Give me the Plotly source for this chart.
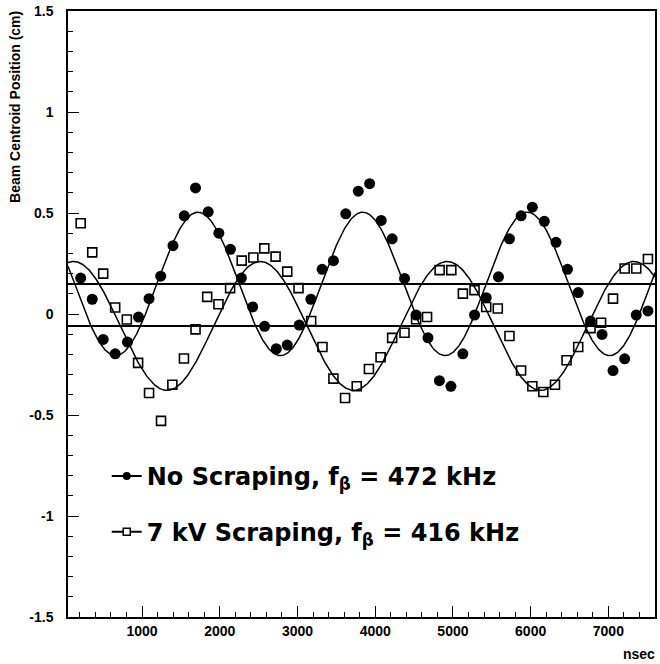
import numpy as np
import plotly.graph_objects as go

# ---- data ----
t_noscrape = [210, 359, 500, 654, 812, 954, 1090, 1240, 1398, 1543,
              1688, 1851, 1988, 2137, 2278, 2423, 2577, 2727, 2868, 3022,
              3172, 3317, 3462, 3621, 3782, 3928, 4077, 4218, 4377, 4526,
              4679, 4826, 4974, 5128, 5278, 5428, 5586, 5727, 5877, 6022,
              6176, 6326, 6474, 6612, 6770, 6919, 7060, 7210, 7359, 7509]
y_noscrape = [0.178, 0.073, -0.126, -0.197, -0.139, -0.015, 0.076, 0.187, 0.338, 0.486,
              0.624, 0.506, 0.400, 0.320, 0.178, 0.035, -0.061, -0.172, -0.154, -0.055,
              0.073, 0.221, 0.264, 0.496, 0.608, 0.645, 0.463, 0.372, 0.176, -0.005,
              -0.118, -0.330, -0.358, -0.197, -0.005, 0.081, 0.184, 0.372, 0.486, 0.529,
              0.459, 0.355, 0.221, 0.106, -0.035, -0.101, -0.280, -0.222, -0.005, 0.015]

t_scrape = [210, 359, 500, 654, 804, 949, 1090, 1244, 1390, 1539,
            1688, 1838, 1983, 2133, 2282, 2432, 2573, 2718, 2868, 3013,
            3176, 3321, 3462, 3612, 3762, 3919, 4069, 4218, 4377, 4526,
            4667, 4829, 4979, 5128, 5278, 5428, 5577, 5727, 5877, 6022,
            6163, 6313, 6462, 6612, 6770, 6906, 7060, 7210, 7359, 7509]
y_scrape = [0.449, 0.305, 0.200, 0.032, -0.027, -0.242, -0.391, -0.529, -0.350, -0.220,
            -0.076, 0.085, 0.048, 0.128, 0.264, 0.280, 0.325, 0.284, 0.210, 0.128,
            -0.035, -0.163, -0.320, -0.416, -0.358, -0.272, -0.214, -0.118, -0.093, -0.026,
            -0.015, 0.217, 0.217, 0.101, 0.118, 0.035, 0.027, -0.109, -0.280, -0.358,
            -0.386, -0.350, -0.229, -0.163, -0.070, -0.043, 0.076, 0.225, 0.225, 0.272]

# sine-fit parameters (frequency from legend, others)
fitA = dict(freq_khz=472, amp=0.355, offset=0.149, peak_ns=1720)
fitB = dict(freq_khz=416, amp=0.319, offset=-0.059, peak_ns=118)

x_range = [47, 7600]
y_range = [-1.5, 1.5]
x_ticks = [1000, 2000, 3000, 4000, 5000, 6000, 7000]
y_ticks = [-1.5, -1, -0.5, 0, 0.5, 1, 1.5]
y_ticklabels = ["-1.5", "-1", "-0.5", "0", "0.5", "1", "1.5"]

label_A = "No Scraping, f<sub>β</sub> = 472 kHz"
label_B = "7 kV Scraping, f<sub>β</sub> = 416 kHz"


def fit_curve(p, t):
    period = 1e6 / p["freq_khz"]
    return p["offset"] + p["amp"] * np.cos(2 * np.pi * (t - p["peak_ns"]) / period)


tt = np.linspace(x_range[0], x_range[1], 800)

fig = go.Figure()
fig.add_trace(go.Scatter(x=tt, y=fit_curve(fitA, tt), mode="lines",
                         line=dict(color="black", width=1.5), showlegend=False))
fig.add_trace(go.Scatter(x=tt, y=fit_curve(fitB, tt), mode="lines",
                         line=dict(color="black", width=1.5), showlegend=False))
fig.add_trace(go.Scatter(x=t_scrape, y=y_scrape, mode="markers",
                         marker=dict(symbol="square-open", size=9, color="black",
                                     line=dict(width=1.6, color="black")),
                         showlegend=False))
fig.add_trace(go.Scatter(x=t_noscrape, y=y_noscrape, mode="markers",
                         marker=dict(symbol="circle", size=11, color="black"),
                         showlegend=False))
# legend entries
fig.add_trace(go.Scatter(x=[None], y=[None], mode="lines+markers", name=label_A,
                         line=dict(color="black", width=2),
                         marker=dict(symbol="circle", size=8, color="black"),
                         legend="legend"))
fig.add_trace(go.Scatter(x=[None], y=[None], mode="lines+markers", name=label_B,
                         line=dict(color="black", width=2),
                         marker=dict(symbol="square", size=7, color="white",
                                     line=dict(width=1.5, color="black")),
                         legend="legend2"))

for p in (fitA, fitB):
    fig.add_shape(type="line", xref="paper", x0=0, x1=1, yref="y",
                  y0=p["offset"], y1=p["offset"], line=dict(color="black", width=2))

tickfont = dict(family="Liberation Sans", size=14, color="black", weight="bold")
legfont = dict(family="DejaVu Sans", size=24, color="black", weight="bold")

fig.update_layout(
    width=660, height=664,
    margin=dict(l=68, r=3, t=9, b=47),
    paper_bgcolor="white", plot_bgcolor="white",
    showlegend=True,
    legend=dict(x=0.066, y=0.232, xanchor="left", yanchor="middle",
                font=legfont, bgcolor="rgba(0,0,0,0)", borderwidth=0),
    legend2=dict(x=0.066, y=0.140, xanchor="left", yanchor="middle",
                 font=legfont, bgcolor="rgba(0,0,0,0)", borderwidth=0),
    xaxis=dict(range=x_range, showgrid=False, zeroline=False,
               showline=True, linecolor="black", linewidth=1.5, mirror=True,
               ticks="inside", ticklen=11, tickwidth=1.3, tickcolor="black",
               tickvals=x_ticks, ticktext=[str(v) for v in x_ticks],
               tickfont=tickfont,
               minor=dict(ticks="inside", ticklen=5, tickwidth=1.2, dtick=200,
                          tick0=0, tickcolor="black")),
    yaxis=dict(range=y_range, showgrid=False, zeroline=False,
               showline=True, linecolor="black", linewidth=1.5, mirror=True,
               ticks="inside", ticklen=11, tickwidth=1.3, tickcolor="black",
               tickvals=y_ticks, ticktext=y_ticklabels, tickfont=tickfont,
               ticklabelstandoff=10,
               minor=dict(ticks="inside", ticklen=5, tickwidth=1.2, dtick=0.1,
                          tick0=0, tickcolor="black")),
)

fig.add_annotation(text="Beam Centroid Position (cm)", textangle=-90,
                   xref="paper", yref="paper", x=-0.09, y=0.842,
                   xanchor="center", yanchor="middle", showarrow=False,
                   font=dict(family="Liberation Sans", size=14, color="black", weight="bold"))
fig.add_annotation(text="nsec", xref="paper", yref="paper", x=1.003, y=-0.061,
                   xanchor="right", yanchor="middle", showarrow=False,
                   font=dict(family="Liberation Sans", size=14, color="black", weight="bold"))

fig.write_html("out.html")
